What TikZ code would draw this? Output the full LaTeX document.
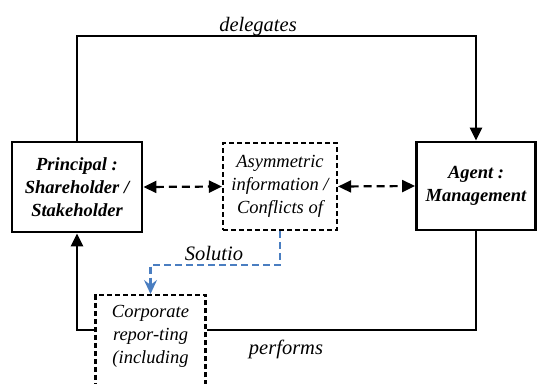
\documentclass[tikz,border=0pt]{standalone}
\usepackage{fontspec}
\setmainfont{Liberation Serif}
\usetikzlibrary{arrows.meta,calc}
\definecolor{solblue}{RGB}{74,126,193}
\tikzset{
  boxtext/.style={font=\fontsize{18.5}{23}\selectfont\itshape, align=center, inner sep=0pt},
  solidbox/.style={boxtext, draw, line width=2.8pt, font=\fontsize{18.5}{23}\selectfont\bfseries\itshape},
  dashbox/.style={boxtext, draw, line width=2.2pt, dash pattern=on 5pt off 3pt},
  lbl/.style={font=\fontsize{20.5}{24}\selectfont\itshape, inner sep=0pt},
  conn/.style={line width=2.3pt},
  dconn/.style={line width=2.2pt, dash pattern=on 8pt off 5pt, {Triangle[length=13pt,width=12pt]}-{Triangle[length=13pt,width=12pt]}},
  tip/.style={-{Triangle[length=13pt,width=12pt]}},
  blueconn/.style={line width=2.2pt, solblue, dash pattern=on 7pt off 4pt, -{Stealth[length=14pt,width=13pt,inset=5pt]}}
}
\begin{document}
\begin{tikzpicture}[x=1pt,y=-1pt]
\useasboundingbox (0,0) rectangle (537,383);
\clip (0,0) rectangle (537,383);
\fill[white] (0,0) rectangle (537,383);
\node[solidbox, minimum width=130pt, minimum height=90pt] (principal) at (77,187) {Principal :\\Shareholder /\\Stakeholder};
\node[dashbox, minimum width=114pt, minimum height=87pt] (asym) at (280,186.5) {Asymmetric\\information /\\Conflicts of};
\node[solidbox, minimum width=119pt, minimum height=88pt] (agent) at (476,186) {Agent :\\Management};
\node[dashbox, minimum width=110pt, anchor=north, inner ysep=10pt] (corp) at (150.5,294) {Corporate\\repor-ting\\(including\\\mbox{}\\\mbox{}};
\coordinate (top) at (0,36);
\draw[conn, tip] (principal.north) -- (principal.north |- top) -| (agent.north);
\node[lbl] (delegates) at (258,26.5) {delegates};
\coordinate (bot) at (0,330);
\draw[conn] (agent.south) -- (agent.south |- bot) -- (corp.east |- bot);
\draw[conn, tip] (corp.west |- bot) -| (principal.south);
\node[lbl] (performs) at (286,349.5) {performs};
\draw[dconn] (principal.east) -- (asym.west);
\draw[dconn] (asym.east) -- (agent.west);
\coordinate (bl) at (0,265);
\draw[blueconn] (asym.south) -- (asym.south |- bl) -| (corp.north);
\node[lbl] (sol) at (214,253.5) {Solutio};
\end{tikzpicture}
\end{document}
